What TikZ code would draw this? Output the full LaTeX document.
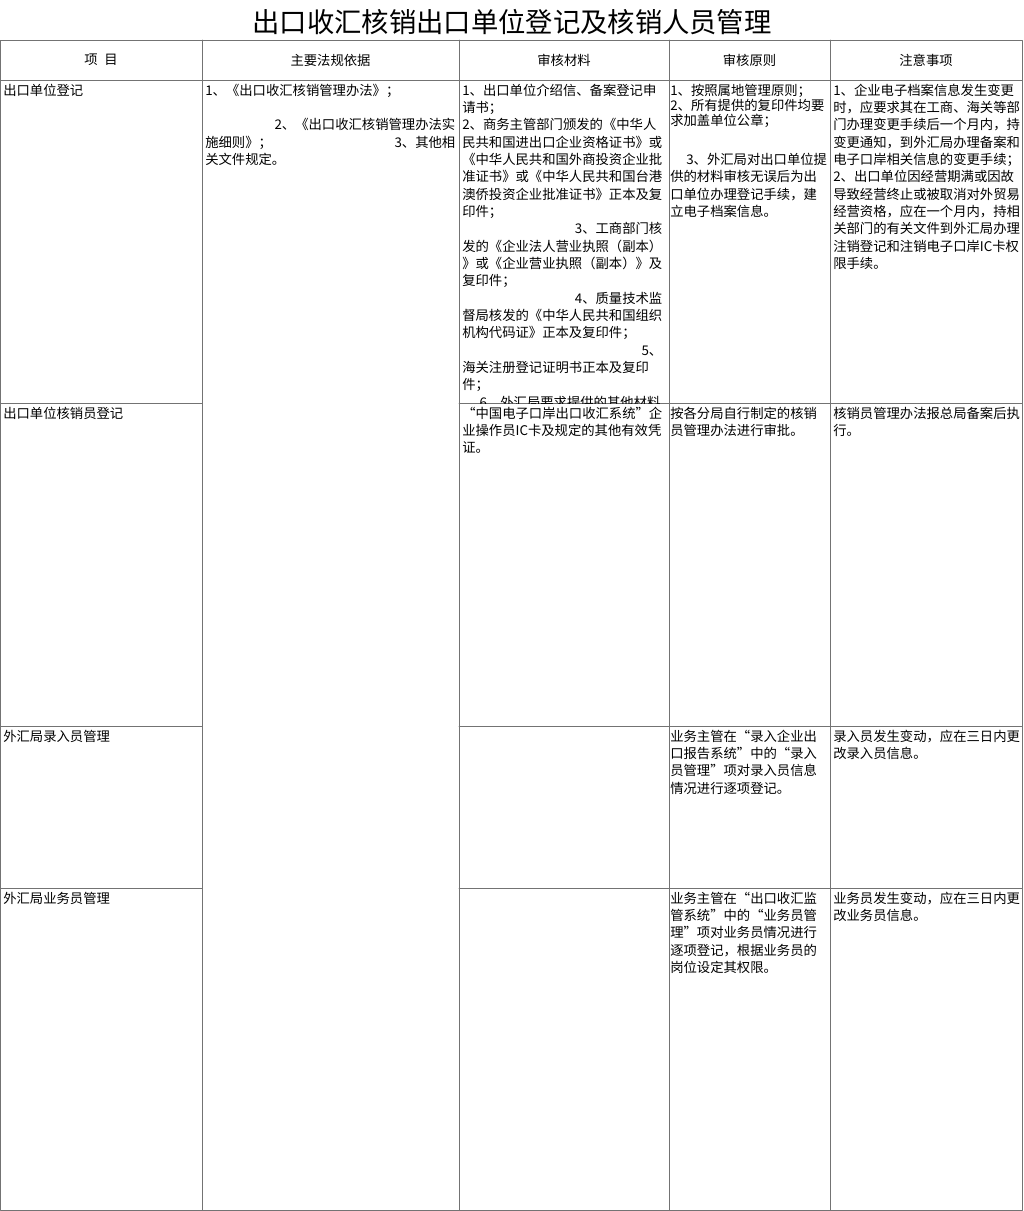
\documentclass[tikz,border=0pt]{standalone}
\usepackage{fontspec}
\setmainfont{Noto Sans CJK SC}
\begin{document}
\begin{tikzpicture}[x=0.75pt,y=-0.75pt,line join=round,line cap=round,
	rule/.style={draw=black!55,line width=0.6pt},
	cell/.style={anchor=north west,inner sep=0pt,align=left,font=\fontsize{10}{13}\selectfont},
	head/.style={inner sep=0pt,font=\fontsize{10}{13}\selectfont}]
	\useasboundingbox (0,0) rectangle (1024,1211);
	% grid
	\draw[rule] (0,40) rectangle (1022,1210) (0,80)--(1022,80);
	\foreach \x in {202,459,669,830} \draw[rule] (\x,40)--(\x,1210);
	\foreach \y in {403,726,888} \draw[rule] (0,\y)--(202,\y) (459,\y)--(1022,\y);
	% title and header
	\node[font=\fontsize{20.5}{24}\selectfont] (title) at (512,22) {出口收汇核销出口单位登记及核销人员管理};
	\node[head] (hItem) at (101,60) {项\hspace{0.5em}目};
	\node[head] (hLaw) at (330.5,60) {主要法规依据};
	\node[head] (hDoc) at (564,60) {审核材料};
	\node[head] (hRule) at (749.5,60) {审核原则};
	\node[head] (hNote) at (926,60) {注意事项};
	% row 1
	\node[cell,text width=150pt] (aItem) at (3,83.5) {出口单位登记};
	\node[cell,text width=187.5pt] (aLaw) at (205,83.5) {1、《出口收汇核销管理办法》；\\[13pt]
		\hfill 2、《出口收汇核销管理办法实\\
		施细则》；\hfill 3、其他相\\
		关文件规定。};
	\begin{scope}
		\clip (459,80) rectangle (669,403);
		\node[cell,text width=150pt] (aDoc) at (462,83.5) {1、出口单位介绍信、备案登记申\\
			请书；\\
			2、商务主管部门颁发的《中华人\\
			民共和国进出口企业资格证书》或\\
			《中华人民共和国外商投资企业批\\
			准证书》或《中华人民共和国台港\\
			澳侨投资企业批准证书》正本及复\\
			印件；\\
			\hfill 3、工商部门核\\
			发的《企业法人营业执照（副本）\\
			》或《企业营业执照（副本）》及\\
			复印件；\\
			\hfill 4、质量技术监\\
			督局核发的《中华人民共和国组织\\
			机构代码证》正本及复印件；\\
			\hfill 5、\\
			海关注册登记证明书正本及复印\\
			件；\\
			\hspace*{1.3em}6、外汇局要求提供的其他材料};
	\end{scope}
	\node[cell,text width=120pt] (aRule) at (670,83.5) {1、按照属地管理原则；\\[-1.5pt]
		2、所有提供的复印件均要\\[-1.5pt]
		求加盖单位公章；\\[16pt]
		\hspace*{1.2em}3、外汇局对出口单位提\\
		供的材料审核无误后为出\\
		口单位办理登记手续，建\\
		立电子档案信息。};
	\node[cell,text width=140pt] (aNote) at (833,83.5) {1、企业电子档案信息发生变更\\
		时，应要求其在工商、海关等部\\
		门办理变更手续后一个月内，持\\
		变更通知，到外汇局办理备案和\\
		电子口岸相关信息的变更手续；\\
		2、出口单位因经营期满或因故\\
		导致经营终止或被取消对外贸易\\
		经营资格，应在一个月内，持相\\
		关部门的有关文件到外汇局办理\\
		注销登记和注销电子口岸IC卡权\\
		限手续。};
	% row 2
	\node[cell,text width=150pt] (bItem) at (3,406.5) {出口单位核销员登记};
	\node[cell,text width=150pt] (bDoc) at (462,406.5) {“中国电子口岸出口收汇系统”企\\
		业操作员IC卡及规定的其他有效凭\\
		证。};
	\node[cell,text width=120pt] (bRule) at (670,406.5) {按各分局自行制定的核销\\
		员管理办法进行审批。};
	\node[cell,text width=140pt] (bNote) at (833,406.5) {核销员管理办法报总局备案后执\\
		行。};
	% row 3
	\node[cell,text width=150pt] (cItem) at (3,729.5) {外汇局录入员管理};
	\node[cell,text width=120pt] (cRule) at (670,729.5) {业务主管在“录入企业出\\
		口报告系统”中的“录入\\
		员管理”项对录入员信息\\
		情况进行逐项登记。};
	\node[cell,text width=140pt] (cNote) at (833,729.5) {录入员发生变动，应在三日内更\\
		改录入员信息。};
	% row 4
	\node[cell,text width=150pt] (dItem) at (3,891.5) {外汇局业务员管理};
	\node[cell,text width=120pt] (dRule) at (670,891.5) {业务主管在“出口收汇监\\
		管系统”中的“业务员管\\
		理”项对业务员情况进行\\
		逐项登记，根据业务员的\\
		岗位设定其权限。};
	\node[cell,text width=140pt] (dNote) at (833,891.5) {业务员发生变动，应在三日内更\\
		改业务员信息。};
\end{tikzpicture}
\end{document}
